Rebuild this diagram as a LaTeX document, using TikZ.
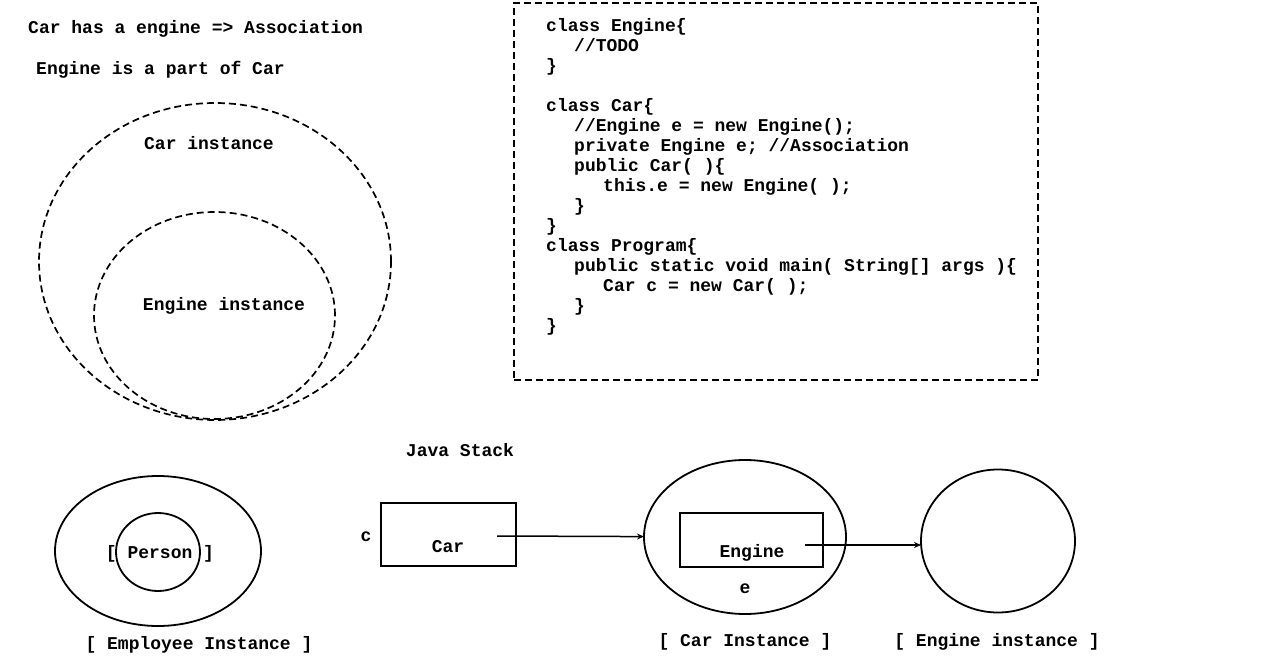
\documentclass[tikz,border=0pt]{standalone}
\usepackage{fontspec}
\setmonofont{Liberation Mono}
\usetikzlibrary{shapes.geometric,arrows.meta}
\begin{document}
\begin{tikzpicture}[x=1pt,y=-1pt,
  every node/.style={font=\ttfamily\bfseries\fontsize{18}{20}\selectfont, inner sep=0pt},
  dashline/.style={draw, line width=1.7pt, dash pattern=on 7pt off 4pt},
  solidline/.style={draw, line width=1.8pt},
  oval/.style={ellipse, solidline, inner sep=0pt, outer sep=0pt},
  doval/.style={ellipse, dashline, inner sep=0pt, outer sep=0pt},
  boxnode/.style={rectangle, solidline, inner sep=0pt, outer sep=0pt},
  arr/.style={-{Stealth[length=7pt,width=6pt]}, line width=1.5pt}
]
\useasboundingbox (0,0) rectangle (1266,671);
% titles
\node[anchor=west] (t1) at (28,29) {Car has a engine => Association};
\node[anchor=west] (t2) at (36,70) {Engine is a part of Car};
% dashed ellipses
\node[doval, minimum width=352pt, minimum height=317pt] (carcirc) at (215,261.5) {};
\node[doval, minimum width=241pt, minimum height=207pt] (engcirc) at (214.5,315.5) {};
\node (carlbl) at (209,143) {Car instance};
\node (englbl) at (224,306) {Engine instance};
% code box
\node[rectangle, dashline, minimum width=524pt, minimum height=377pt, anchor=north west] (codebox) at (513,2) {};
\node[anchor=north west, align=left] (code) at (546,18) {%
class Engine\{\\
\hspace*{28pt}//TODO\\
\}\\
\mbox{}\\
class Car\{\\
\hspace*{28pt}//Engine e = new Engine();\\
\hspace*{28pt}private Engine e; //Association\\
\hspace*{28pt}public Car( )\{\\
\hspace*{57pt}this.e = new Engine( );\\
\hspace*{28pt}\}\\
\}\\
class Program\{\\
\hspace*{28pt}public static void main( String[] args )\{\\
\hspace*{57pt}Car c = new Car( );\\
\hspace*{28pt}\}\\
\}};
% employee
\node[oval, minimum width=206pt, minimum height=150pt] (emp) at (158,551) {};
\node (personlbl) at (160,554) {[ Person ]};
\node[oval, minimum width=84pt, minimum height=78pt] (person) at (158,552) {};
\node (emplbl) at (199,645) {[ Employee Instance ]};
% stack
\node (stacklbl) at (460,450) {Java Stack};
\node (clbl) at (366,537) {c};
\node[boxnode, minimum width=135pt, minimum height=63pt] (carbox) at (448.5,534.5) {};
\node (carboxlbl) at (448,547) {Car};
\coordinate (carstart) at (497,536);
% car instance
\node[oval, minimum width=202pt, minimum height=154pt] (carinst) at (745,537) {};
\node[boxnode, minimum width=143pt, minimum height=54pt] (engbox) at (751.5,540) {};
\node (engboxlbl) at (752,553) {Engine};
\node (elbl) at (745,589) {e};
\node (carinstlbl) at (745,642) {[ Car Instance ]};
\coordinate (engstart) at (805,545);
% engine instance
\node[oval, minimum width=154pt, minimum height=143pt] (enginst) at (998,541) {};
\node (enginstlbl) at (997,642) {[ Engine instance ]};
% arrows
\draw[arr] (carstart) -- (carinst);
\draw[arr] (engstart) -- (engstart -| enginst.west);
\end{tikzpicture}
\end{document}
